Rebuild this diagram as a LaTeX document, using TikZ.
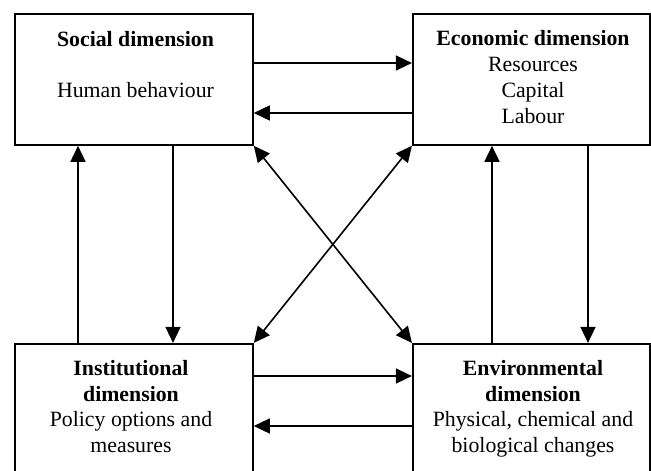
\documentclass[tikz,border=0pt]{standalone}
\usepackage{fontspec}
\setmainfont{Liberation Serif}
\usetikzlibrary{arrows.meta}
\begin{document}
\begin{tikzpicture}[x=1pt,y=-1pt,
  dim/.style={draw, line width=1.6pt, rectangle, inner sep=0pt},
  lbl/.style={align=center, font=\fontsize{21.8}{25.8}\selectfont, inner sep=0pt, anchor=base},
  arr/.style={line width=1.6pt, -{Triangle[length=16pt,width=15pt]}},
  darr/.style={line width=1.6pt, {Triangle[length=16pt,width=15pt]}-{Triangle[length=16pt,width=15pt]}}]
\useasboundingbox (0,0) rectangle (651,471);
\clip (0,0) rectangle (651,471);
\fill[white] (0,0) rectangle (651,471);
% boxes
\node[dim, minimum width=238.3pt, minimum height=131pt] (soc) at (133.85,79.5) {};
\node[dim, minimum width=237.3pt, minimum height=131pt] (eco) at (531.35,79.5) {};
\node[dim, minimum width=238.3pt, minimum height=141.3pt] (inst) at (133.85,414.35) {};
\node[dim, minimum width=237.3pt, minimum height=141.3pt] (env) at (531.35,414.35) {};
% texts (anchored at the baseline of the last line)
\node[lbl] (soct) at (135.5,97.3) {\textbf{Social dimension}\\[25.5pt]Human behaviour};
\node[lbl] (ecot) at (533,123.3) {\textbf{Economic dimension}\\Resources\\Capital\\Labour};
\node[lbl] (instt) at (131,452.7) {\textbf{Institutional}\\\textbf{dimension}\\Policy options and\\measures};
\node[lbl] (envt) at (533,452.7) {\textbf{Environmental}\\\textbf{dimension}\\Physical, chemical and\\biological changes};
% horizontal connectors
\draw[arr] ([yshift=16.5pt]soc.east) -- ([yshift=16.5pt]eco.west);
\draw[arr] ([yshift=-33.5pt]eco.west) -- ([yshift=-33.5pt]soc.east);
\draw[arr] ([yshift=38.35pt]inst.east) -- ([yshift=38.35pt]env.west);
\draw[arr] ([yshift=-11.65pt]env.west) -- ([yshift=-11.65pt]inst.east);
% vertical connectors
\draw[arr] ([xshift=-55.85pt]inst.north) -- ([xshift=-55.85pt]soc.south);
\draw[arr] ([xshift=39.15pt]soc.south) -- ([xshift=39.15pt]inst.north);
\draw[arr] ([xshift=-39.35pt]env.north) -- ([xshift=-39.35pt]eco.south);
\draw[arr] ([xshift=56.65pt]eco.south) -- ([xshift=56.65pt]env.north);
% diagonal connectors
\draw[darr] (soc.south east) -- (env.north west);
\draw[darr] (eco.south west) -- (inst.north east);
\end{tikzpicture}
\end{document}
